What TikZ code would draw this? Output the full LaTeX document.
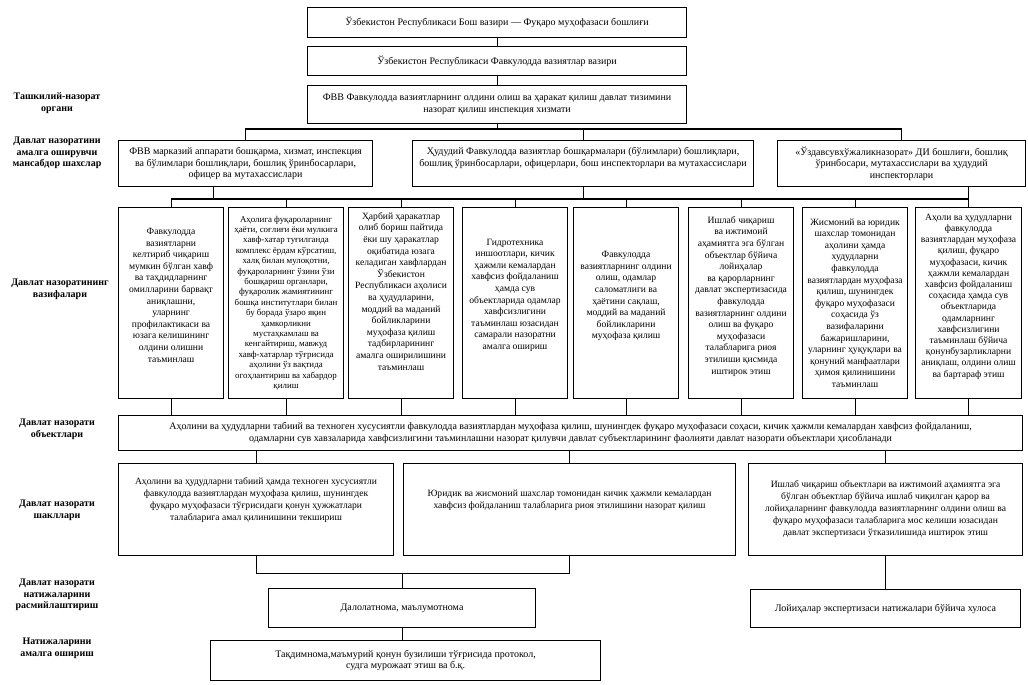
\documentclass[tikz,border=0pt]{standalone}
\usepackage{fontspec}
\setmainfont{Liberation Serif}
\begin{document}
\begin{tikzpicture}[x=1pt,y=-1pt,
  box/.style={draw, line width=1.1pt, inner sep=2pt, align=center, anchor=north west,
    font=\fontsize{10}{11.6}\selectfont},
  taskbox/.style={box, minimum width=105pt, minimum height=191pt, font=\fontsize{9.6}{11.6}\selectfont},
  formbox/.style={box, minimum height=92pt, font=\fontsize{9.6}{12}\selectfont},
  lab/.style={font=\bfseries\fontsize{10}{11.6}\selectfont, align=center},
  conn/.style={line width=1.1pt}]
\useasboundingbox (0,0) rectangle (1028,685);
\fill[white] (0,0) rectangle (1028,685);

% top chain
\node[box, minimum width=379pt, minimum height=30pt] (T1) at (307,7)
  {Ўзбекистон Республикаси Бош вазири — Фуқаро муҳофазаси бошлиғи};
\node[box, minimum width=379pt, minimum height=29pt] (T2) at (307,46)
  {Ўзбекистон Республикаси Фавкулодда вазиятлар вазири};
\node[box, minimum width=379pt, minimum height=38pt] (T3) at (307,85)
  {ФВВ Фавкулодда вазиятларнинг олдини олиш ва ҳаракат қилиш давлат тизимини\\назорат қилиш инспекция хизмати};

% officials
\node[box, minimum width=254pt, minimum height=46pt] (M1) at (118,140)
  {ФВВ марказий аппарати бошқарма, хизмат, инспекция\\ва бўлимлари бошлиқлари, бошлиқ ўринбосарлари,\\офицер ва мутахассислари};
\node[box, minimum width=341pt, minimum height=46pt] (M2) at (412,140)
  {Ҳудудий Фавкулодда вазиятлар бошқармалари (бўлимлари) бошлиқлари,\\бошлиқ ўринбосарлари, офицерлари, бош инспекторлари ва мутахассислари\\[2pt]\mbox{}};
\node[box, minimum width=248pt, minimum height=46pt] (M3) at (777,140)
  {«Ўздавсувхўжаликназорат» ДИ бошлиғи, бошлиқ\\ўринбосари, мутахассислари ва ҳудудий\\инспекторлари};

% tasks
\node[taskbox] (R1) at (118,207)
  {Фавкулодда\\вазиятларни\\келтириб чиқариш\\мумкин бўлган хавф\\ва таҳдидларнинг\\омилларини барвақт\\аниқлашни,\\уларнинг\\профилактикаси ва\\юзага келишининг\\олдини олишни\\таъминлаш\\[4pt]\mbox{}};
\node[taskbox, minimum width=115pt, font=\fontsize{8.9}{10.4}\selectfont] (R2) at (228,207)
  {Аҳолига фуқароларнинг\\ҳаёти, соғлиғи ёки мулкига\\хавф-хатар туғилганда\\комплекс ёрдам кўрсатиш,\\халқ билан мулоқотни,\\фуқароларнинг ўзини ўзи\\бошқариш органлари,\\фуқаролик жамиятининг\\бошқа институтлари билан\\бу борада ўзаро яқин\\ҳамкорликни\\мустаҳкамлаш ва\\кенгайтириш, мавжуд\\хавф-хатарлар тўғрисида\\аҳолини ўз вақтида\\огоҳлантириш ва хабардор\\қилиш};
\node[taskbox] (R3) at (348,207)
  {Ҳарбий ҳаракатлар\\олиб бориш пайтида\\ёки шу ҳаракатлар\\оқибатида юзага\\келадиган хавфлардан\\Ўзбекистон\\Республикаси аҳолиси\\ва ҳудудларини,\\моддий ва маданий\\бойликларини\\муҳофаза қилиш\\тадбирларининг\\амалга оширилишини\\таъминлаш\\[12pt]\mbox{}};
\node[taskbox] (R4) at (462,207)
  {Гидротехника\\иншоотлари, кичик\\ҳажмли кемалардан\\хавфсиз фойдаланиш\\ҳамда сув\\объектларида одамлар\\хавфсизлигини\\таъминлаш юзасидан\\самарали назоратни\\амалга ошириш\\[6pt]\mbox{}};
\node[taskbox] (R5) at (573,207)
  {Фавкулодда\\вазиятларнинг олдини\\олиш, одамлар\\саломатлиги ва\\ҳаётини сақлаш,\\моддий ва маданий\\бойликларини\\муҳофаза қилиш\\[4pt]\mbox{}};
\node[taskbox] (R6) at (688,207)
  {Ишлаб чиқариш\\ва ижтимоий\\аҳамиятга эга бўлган\\объектлар бўйича\\лойиҳалар\\ва қарорларнинг\\давлат экспертизасида\\фавкулодда\\вазиятларнинг олдини\\олиш ва фуқаро\\муҳофазаси\\талабларига риоя\\этилиши қисмида\\иштирок этиш\\[4pt]\mbox{}};
\node[taskbox] (R7) at (802,207)
  {Жисмоний ва юридик\\шахслар томонидан\\аҳолини ҳамда\\худудларни\\фавкулодда\\вазиятлардан муҳофаза\\қилиш, шунингдек\\фуқаро муҳофазаси\\соҳасида ўз\\вазифаларини\\бажаришларини,\\уларнинг ҳуқуқлари ва\\қонуний манфаатлари\\ҳимоя қилинишини\\таъминлаш};
\node[taskbox, minimum width=106pt, font=\fontsize{9.6}{11.2}\selectfont] (R8) at (915,207)
  {Аҳоли ва ҳудудларни\\фавкулодда\\вазиятлардан муҳофаза\\қилиш, фуқаро\\муҳофазаси, кичик\\ҳажмли кемалардан\\хавфсиз фойдаланиш\\соҳасида ҳамда сув\\объектларида\\одамларнинг\\хавфсизлигини\\таъминлаш бўйича\\қонунбузарликларни\\аниқлаш, олдини олиш\\ва бартараф этиш\\[4pt]\mbox{}};

% objects
\node[box, minimum width=904pt, minimum height=35pt] (O) at (118,415)
  {Аҳолини ва ҳудудларни табиий ва техноген хусусиятли фавкулодда вазиятлардан муҳофаза қилиш, шунингдек фуқаро муҳофазаси соҳаси, кичик ҳажмли кемалардан хавфсиз фойдаланиш,\\одамларни сув хавзаларида хавфсизлигини таъминлашни назорат қилувчи давлат субъектларининг фаолияти давлат назорати объектлари ҳисобланади};

% forms
\node[formbox, minimum width=275pt] (F1) at (118,463)
  {Аҳолини ва ҳудудларни табиий ҳамда техноген хусусиятли\\фавкулодда вазиятлардан муҳофаза қилиш, шунингдек\\фуқаро муҳофазаси тўғрисидаги қонун ҳужжатлари\\талабларига амал қилинишини текшириш\\[8pt]\mbox{}};
\node[formbox, minimum width=332pt] (F2) at (403,463)
  {Юридик ва жисмоний шахслар томонидан кичик ҳажмли кемалардан\\хавфсиз фойдаланиш талабларига риоя этилишини назорат қилиш\\[8pt]\mbox{}};
\node[formbox, minimum width=274pt] (F3) at (748,463)
  {Ишлаб чиқариш объектлари ва ижтимоий аҳамиятга эга\\бўлган объектлар бўйича ишлаб чиқилган қарор ва\\лойиҳаларнинг фавкулодда вазиятларнинг олдини олиш ва\\фуқаро муҳофазаси талабларига мос келиши юзасидан\\давлат экспертизаси ўтказилишида иштирок этиш};

% results
\node[box, minimum width=267pt, minimum height=39pt] (P1) at (268,588)
  {Далолатнома, маълумотнома};
\node[box, minimum width=270pt, minimum height=38pt] (P2) at (750,589)
  {Лойиҳалар экспертизаси натижалари бўйича хулоса};
\node[box, minimum width=390pt, minimum height=40pt] (Fin) at (210,640)
  {Тақдимнома,маъмурий қонун бузилиши тўғрисида протокол,\\судга мурожаат этиш ва б.қ.};

% left labels
\node[lab] (L1) at (57,103) {Ташкилий-назорат\\органи};
\node[lab] (L2) at (57,153) {Давлат назоратини\\амалга оширувчи\\мансабдор шахслар};
\node[lab] (L3) at (60,289) {Давлат назоратининг\\вазифалари};
\node[lab] (L4) at (57,429) {Давлат назорати\\объектлари};
\node[lab] (L5) at (57,510) {Давлат назорати\\шакллари};
\node[lab] (L6) at (57,595) {Давлат назорати\\натижаларини\\расмийлаштириш};
\node[lab] (L7) at (57,648) {Натижаларини\\амалга ошириш};

% connectors
\draw[conn] (T1.south) -- (T2.north);
\draw[conn] (T2.south) -- (T3.north);
\draw[conn] (M1.north) -- ++(0,-11) coordinate (busA) -| (M3.north);
\draw[conn] (M2.north) -- (M2.north |- busA);
\draw[conn] (T3.south) -- (T3.south |- busA);

\draw[conn] (R1.north) -- ++(0,-8) coordinate (busB) -| (R8.north);
\foreach \r in {R2,R3,R4,R5,R6,R7}{\draw[conn] (\r.north) -- (\r.north |- busB);}
\draw[conn] ([xshift=-32pt]M1.south) -- ([xshift=-32pt]M1.south |- busB);
\draw[conn] (M2.south) -- (M2.south |- busB);
\draw[conn] (M3.south -| R8.north) -- (R8.north);

\foreach \r in {R1,R2,R3,R4,R5,R6,R7,R8}{\draw[conn] (\r.south) -- (\r.south |- O.north);}
\foreach \f in {F1,F2,F3}{\draw[conn] (\f.north |- O.south) -- (\f.north);}

\draw[conn] (F1.south) -- ++(0,17) coordinate (busC) -| (F2.south);
\draw[conn] (P1.north) -- (P1.north |- busC);
\draw[conn] (F3.south) -- (P2.north);
\draw[conn] (P1.south) -- (P1.south |- Fin.north);
\end{tikzpicture}
\end{document}
